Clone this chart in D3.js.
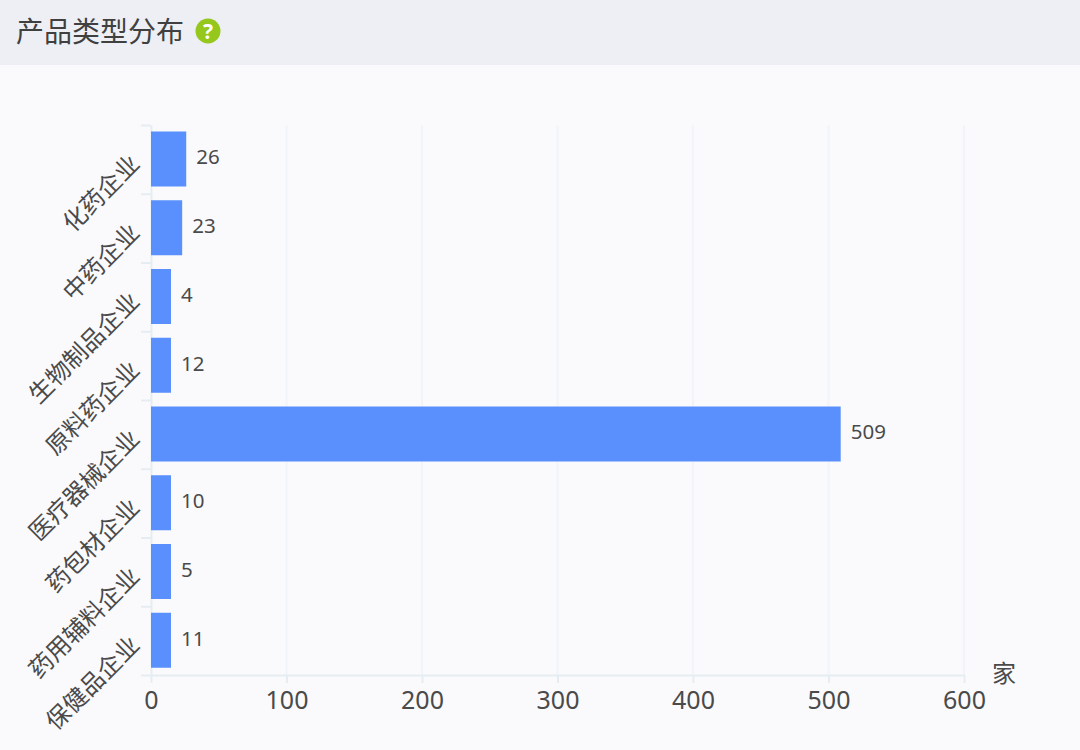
<!DOCTYPE html>
<html><head><meta charset="utf-8">
<script src="https://cdn.jsdelivr.net/npm/d3@7"></script>
<style>
html,body{margin:0;padding:0;background:#fafafd}
svg{display:block}
text{font-family:"Noto Sans","Noto Sans CJK SC",sans-serif;fill:#4a4a4a}
</style></head><body>
<script>
const categories=["化药企业","中药企业","生物制品企业","原料药企业","医疗器械企业","药包材企业","药用辅料企业","保健品企业"];
const values=[26,23,4,12,509,10,5,11];
const xTicks=[0,100,200,300,400,500,600];
const titleText="产品类型分布";
const unitText="家";

const W=1080,H=750,minBar=20;
const svg=d3.select("body").append("svg").attr("width",W).attr("height",H);
svg.append("rect").attr("width",W).attr("height",H).attr("fill","#fafafd");
svg.append("rect").attr("width",W).attr("height",65).attr("fill","#edeff4");
svg.append("text").attr("x",16).attr("y",42).attr("font-size",28).style("fill","#404040").text(titleText);
svg.append("circle").attr("cx",208).attr("cy",31).attr("r",12.5).attr("fill","#95c71c");
svg.append("text").attr("x",208).attr("y",39).attr("text-anchor","middle").attr("font-size",21).attr("font-weight",700).style("fill","#fff").text("?");

const x=d3.scaleLinear().domain([0,600]).range([151,964]);
const y=d3.scaleBand().domain(categories).range([125,675]);
const axisCol="#e6edf2";

svg.append("g").selectAll("line").data(xTicks.slice(1)).join("line")
 .attr("x1",d=>x(d)).attr("x2",d=>x(d)).attr("y1",125).attr("y2",675)
 .attr("stroke","#f1f4f8").attr("stroke-width",2);

const gx=svg.append("g").attr("transform","translate(0,675)")
 .call(d3.axisBottom(x).tickValues(xTicks).tickSize(8).tickPadding(8).tickSizeOuter(0));
gx.select(".domain").attr("stroke",axisCol).attr("stroke-width",2);
gx.selectAll("line").attr("stroke",axisCol).attr("stroke-width",2);
gx.selectAll("text").attr("font-size",25).attr("font-family",null).style("fill","#4a4a4a");

const gy=svg.append("g").attr("transform","translate(151,0)")
 .call(d3.axisLeft(y).tickSize(0).tickFormat(""));
gy.select(".domain").attr("stroke",axisCol).attr("stroke-width",2);
gy.selectAll(".tick").remove();
const tickPos=categories.map(c=>y(c)).concat([675]);
svg.append("g").selectAll("line").data(tickPos).join("line")
 .attr("x1",141).attr("x2",151).attr("y1",d=>d+0.5).attr("y2",d=>d+0.5)
 .attr("stroke",axisCol).attr("stroke-width",2);

const inner=6.5;
svg.append("g").selectAll("rect").data(values).join("rect")
 .attr("x",x(0))
 .attr("y",(d,i)=>y(categories[i])+inner)
 .attr("width",d=>Math.max(x(d)-x(0),minBar))
 .attr("height",55)
 .attr("fill","#5990fd");

svg.append("g").selectAll("text").data(values).join("text")
 .attr("x",d=>x(0)+Math.max(x(d)-x(0),minBar)+10)
 .attr("y",(d,i)=>y(categories[i])+y.bandwidth()/2+5)
 .attr("font-size",20.5).text(d=>d);

svg.append("g").selectAll("text").data(categories).join("text")
 .attr("text-anchor","end")
 .attr("font-size",24)
 .attr("transform",c=>`translate(135,${y(c)+y.bandwidth()/2}) rotate(-45)`)
 .attr("dy","0.35em")
 .text(c=>c);

svg.append("text").attr("x",992).attr("y",682).attr("font-size",24).text(unitText);
</script>
</body></html>
